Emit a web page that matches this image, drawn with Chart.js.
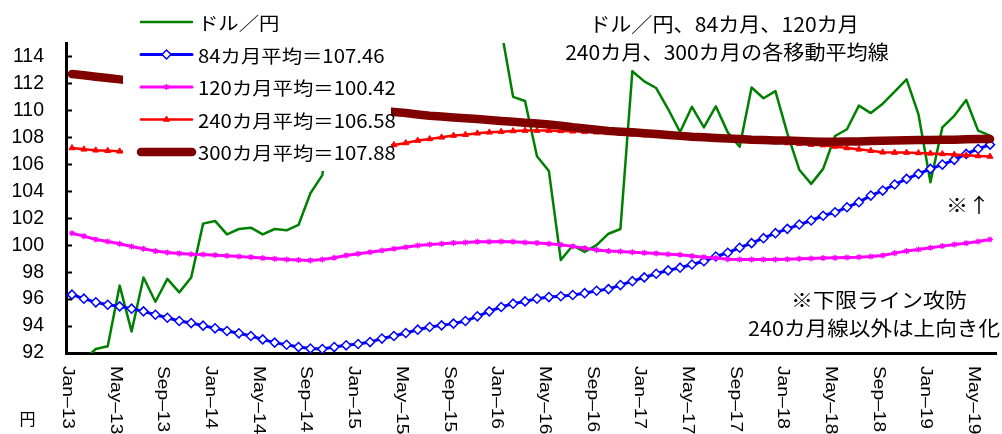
<!DOCTYPE html>
<html lang="ja">
<head>
<meta charset="utf-8">
<title>ドル／円と長期移動平均線</title>
<script src="https://cdn.jsdelivr.net/npm/chart.js@4/dist/chart.umd.min.js"></script>
<style>
  html, body { margin: 0; padding: 0; background: #fff; }
  #wrap { width: 1002px; height: 434px; position: relative; }
</style>
</head>
<body>
<div id="wrap"><canvas id="c" width="1002" height="434"></canvas></div>
<script>
// Monthly categories, Jan 2013 – Jun 2019
const categories = [
  'Jan-13','Feb-13','Mar-13','Apr-13','May-13','Jun-13','Jul-13','Aug-13','Sep-13','Oct-13','Nov-13','Dec-13',
  'Jan-14','Feb-14','Mar-14','Apr-14','May-14','Jun-14','Jul-14','Aug-14','Sep-14','Oct-14','Nov-14','Dec-14',
  'Jan-15','Feb-15','Mar-15','Apr-15','May-15','Jun-15','Jul-15','Aug-15','Sep-15','Oct-15','Nov-15','Dec-15',
  'Jan-16','Feb-16','Mar-16','Apr-16','May-16','Jun-16','Jul-16','Aug-16','Sep-16','Oct-16','Nov-16','Dec-16',
  'Jan-17','Feb-17','Mar-17','Apr-17','May-17','Jun-17','Jul-17','Aug-17','Sep-17','Oct-17','Nov-17','Dec-17',
  'Jan-18','Feb-18','Mar-18','Apr-18','May-18','Jun-18','Jul-18','Aug-18','Sep-18','Oct-18','Nov-18','Dec-18',
  'Jan-19','Feb-19','Mar-19','Apr-19','May-19','Jun-19'
];

// ドル／円 (monthly)
const usdJpy = [
  86.8, 91.5, 92.3, 92.5, 97.0, 93.6, 97.6, 95.8, 97.5, 96.5, 97.6, 101.6,
  101.8, 100.8, 101.2, 101.3, 100.8, 101.2, 101.1, 101.5, 103.85, 105.2, 112.5, 115.5,
  115.85, 116.9, 118.3, 118.5, 118.9, 122.5, 122.2, 116.2, 118.6, 118.1, 120.2, 120.3,
  116.0, 111.0, 110.7, 106.6, 105.5, 98.9, 99.98, 99.5, 100.0, 100.85, 101.2, 112.9,
  112.15, 111.66, 110.1, 108.4, 110.27, 108.74, 110.3, 108.37, 107.3, 111.7, 110.9, 111.43,
  108.3, 105.6, 104.55, 105.66, 108.1, 108.6, 110.35, 109.8, 110.5, 111.4, 112.3, 109.7,
  104.67, 108.74, 109.6, 110.77, 108.5, 108.13
];

// 84カ月移動平均
const ma84 = [
  96.33, 96.03, 95.76, 95.58, 95.46, 95.29, 95.09, 94.84, 94.62, 94.37, 94.22, 94.03,
  93.83, 93.63, 93.46, 93.26, 93.01, 92.77, 92.61, 92.44, 92.33, 92.30, 92.44, 92.57,
  92.67, 92.81, 93.07, 93.26, 93.48, 93.73, 93.93, 94.05, 94.18, 94.37, 94.72, 95.09,
  95.41, 95.66, 95.83, 96.03, 96.15, 96.21, 96.30, 96.44, 96.62, 96.74, 97.04, 97.33,
  97.61, 97.88, 98.13, 98.33, 98.57, 98.81, 99.16, 99.44, 99.81, 100.15, 100.52, 100.89,
  101.21, 101.53, 101.83, 102.18, 102.44, 102.81, 103.19, 103.68, 104.05, 104.50, 104.92, 105.29,
  105.66, 105.98, 106.33, 106.77, 107.14, 107.46
];

// 120カ月移動平均
const ma120 = [
  100.89, 100.67, 100.42, 100.27, 100.10, 99.90, 99.73, 99.56, 99.46, 99.39, 99.33, 99.31,
  99.26, 99.21, 99.16, 99.11, 99.04, 98.99, 98.94, 98.90, 98.87, 98.94, 99.06, 99.24,
  99.36, 99.48, 99.61, 99.73, 99.85, 99.98, 100.05, 100.10, 100.17, 100.20, 100.25, 100.25,
  100.27, 100.25, 100.20, 100.17, 100.10, 100.03, 99.91, 99.78, 99.65, 99.56, 99.53, 99.48,
  99.43, 99.39, 99.33, 99.29, 99.19, 99.11, 99.04, 98.96, 98.94, 98.94, 98.94, 98.94,
  98.96, 98.99, 99.01, 99.04, 99.06, 99.09, 99.11, 99.16, 99.24, 99.41, 99.56, 99.68,
  99.81, 99.93, 100.05, 100.15, 100.27, 100.42
];

// 240カ月移動平均
const ma240 = [
  107.21, 107.11, 107.04, 107.01, 106.96, 106.93, 106.90, 106.88, 106.86, 106.85, 106.84, 106.84,
  106.85, 106.86, 106.88, 106.90, 106.93, 106.96, 107.00, 107.04, 107.08, 107.13, 107.18, 107.23,
  107.29, 107.34, 107.39, 107.44, 107.58, 107.76, 107.88, 108.00, 108.13, 108.20, 108.30, 108.37,
  108.42, 108.47, 108.50, 108.50, 108.50, 108.48, 108.45, 108.42, 108.38, 108.33, 108.28, 108.22,
  108.17, 108.12, 108.07, 108.02, 107.97, 107.93, 107.89, 107.85, 107.80, 107.76, 107.71, 107.65,
  107.58, 107.52, 107.46, 107.42, 107.32, 107.21, 107.11, 107.01, 106.89, 106.87, 106.87, 106.84,
  106.81, 106.77, 106.72, 106.67, 106.62, 106.58
];

// 300カ月移動平均
const ma300 = [
  112.70, 112.60, 112.50, 112.40, 112.30, 112.20, 112.10, 112.00, 111.90, 111.80, 111.70, 111.60,
  111.50, 111.40, 111.30, 111.20, 111.10, 111.00, 110.90, 110.80, 110.70, 110.55, 110.45, 110.35,
  110.20, 110.10, 109.97, 109.88, 109.80, 109.70, 109.60, 109.55, 109.48, 109.42, 109.36, 109.29,
  109.22, 109.15, 109.08, 109.02, 108.95, 108.87, 108.75, 108.65, 108.56, 108.48, 108.42, 108.37,
  108.31, 108.25, 108.18, 108.11, 108.05, 108.01, 107.96, 107.92, 107.88, 107.83, 107.80, 107.77,
  107.76, 107.73, 107.70, 107.68, 107.68, 107.69, 107.70, 107.72, 107.74, 107.76, 107.78, 107.80,
  107.81, 107.82, 107.83, 107.85, 107.87, 107.88
];

// Value axis ticks
const yTicks = [92, 94, 96, 98, 100, 102, 104, 106, 108, 110, 112, 114];

const titleLines = ['ドル／円、84カ月、120カ月', '240カ月、300カ月の各移動平均線'];
const noteLines = ['※下限ライン攻防', '240カ月線以外は上向き化'];
const noteArrow = '※↑';
const unitLabel = '円';

const last = arr => arr[arr.length - 1].toFixed(2);
const CJK = '"Noto Sans CJK JP", "Noto Sans", sans-serif';

function drawScaledText(ctx, text, x, y, font, align, sx) {
  ctx.save();
  ctx.font = font;
  ctx.translate(x, y);
  ctx.scale(sx, 1);
  ctx.textAlign = align;
  ctx.textBaseline = 'middle';
  ctx.fillStyle = '#000';
  ctx.fillText(text, 0, 0);
  ctx.restore();
}

function drawMarker(ctx, ds, cx, cy) {
  if (!ds.pointRadius) return;
  const opts = {
    pointStyle: ds.pointStyle, radius: ds.pointRadius, rotation: 0,
    borderWidth: ds.pointBorderWidth || 1
  };
  ctx.save();
  ctx.fillStyle = ds.pointBackgroundColor;
  ctx.strokeStyle = ds.pointBorderColor;
  ctx.lineWidth = opts.borderWidth;
  Chart.helpers.drawPoint(ctx, opts, cx, cy);
  ctx.restore();
}

const overlay = {
  id: 'overlay',
  afterDatasetsDraw(chart) {
    const { ctx, chartArea, scales } = chart;
    const xs = scales.x, ys = scales.y;
    ctx.save();

    // inward tick marks on the value axis
    ctx.strokeStyle = '#000';
    ctx.lineWidth = 2;
    yTicks.forEach(v => {
      const py = Math.round(ys.getPixelForValue(v)) + 0.5;
      ctx.beginPath();
      ctx.moveTo(chartArea.left, py);
      ctx.lineTo(chartArea.left + 6, py);
      ctx.stroke();
    });

    // legend panel
    ctx.fillStyle = '#fff';
    ctx.fillRect(123, 0, 268, 171);
    chart.data.datasets.forEach((ds, i) => {
      const cy = 22 + i * 32.5;
      ctx.save();
      ctx.strokeStyle = ds.borderColor;
      ctx.lineWidth = ds.borderWidth;
      ctx.lineCap = 'round';
      ctx.beginPath();
      ctx.moveTo(141, cy);
      ctx.lineTo(192, cy);
      ctx.stroke();
      ctx.restore();
      drawMarker(ctx, ds, 166.5, cy);
      drawScaledText(ctx, ds.label, 198, cy + 1, '18.5px ' + CJK, 'left', 1.1);
    });

    // title
    drawScaledText(ctx, titleLines[0], 724, 24, '20.5px ' + CJK, 'center', 1.03);
    drawScaledText(ctx, titleLines[1], 727, 52, '20.5px ' + CJK, 'center', 1.03);

    // notes
    drawScaledText(ctx, noteArrow, 968, 205, '20px ' + CJK, 'center', 1.1);
    drawScaledText(ctx, noteLines[0], 879, 300, '20px ' + CJK, 'center', 1.1);
    drawScaledText(ctx, noteLines[1], 874, 328, '20px ' + CJK, 'center', 1.08);

    // category labels, every 4th month, turned to read downward
    ctx.fillStyle = '#000';
    ctx.font = '16px "Liberation Sans", Arial, sans-serif';
    ctx.textAlign = 'left';
    ctx.textBaseline = 'alphabetic';
    categories.forEach((lab, i) => {
      if (i % 4 !== 0) return;
      const px = xs.getPixelForValue(i);
      ctx.save();
      ctx.translate(px - 9, 366);
      ctx.rotate(Math.PI / 2);
      ctx.scale(1.2, 1);
      ctx.fillText(lab.replace('-', '\u2013'), 0, 0);
      ctx.restore();
    });

    // unit
    drawScaledText(ctx, unitLabel, 27.5, 419, '16px ' + CJK, 'center', 1.0);
    ctx.restore();
  }
};

const chart = new Chart(document.getElementById('c'), {
  type: 'line',
  data: {
    labels: categories,
    datasets: [
      {
        label: 'ドル／円', data: usdJpy, order: 5,
        borderColor: '#008000', borderWidth: 2.5, pointRadius: 0,
        borderCapStyle: 'round', borderJoinStyle: 'round', tension: 0
      },
      {
        label: '84カ月平均＝' + last(ma84), data: ma84, order: 4,
        borderColor: '#0000FF', borderWidth: 3, borderCapStyle: 'round',
        pointStyle: 'rectRot', pointRadius: 4.5, pointBorderWidth: 1.5,
        pointBackgroundColor: '#FFFFFF', pointBorderColor: '#0000FF'
      },
      {
        label: '120カ月平均＝' + last(ma120), data: ma120, order: 3,
        borderColor: '#FF00FF', borderWidth: 3, borderCapStyle: 'round',
        pointStyle: 'star', pointRadius: 3, pointBorderWidth: 1.2,
        pointBackgroundColor: '#FF00FF', pointBorderColor: '#FF00FF'
      },
      {
        label: '240カ月平均＝' + last(ma240), data: ma240, order: 2,
        borderColor: '#FF0000', borderWidth: 2.5, borderCapStyle: 'round',
        pointStyle: 'triangle', pointRadius: 3.5, pointBorderWidth: 1,
        pointBackgroundColor: '#FF0000', pointBorderColor: '#FF0000'
      },
      {
        label: '300カ月平均＝' + last(ma300), data: ma300, order: 1,
        borderColor: '#800000', borderWidth: 8.5, pointRadius: 0,
        borderCapStyle: 'round', borderJoinStyle: 'round'
      }
    ]
  },
  options: {
    responsive: false,
    animation: false,
    devicePixelRatio: 1,
    layout: { padding: { top: 43, right: 2, left: 0, bottom: 0 } },
    plugins: { legend: { display: false }, tooltip: { enabled: false } },
    scales: {
      x: {
        type: 'category',
        offset: true,
        grid: { display: false },
        border: { display: true, color: '#000', width: 3 },
        ticks: { display: false },
        afterFit(scale) { scale.height = 81; }
      },
      y: {
        min: 92, max: 115,
        grid: { display: false, drawTicks: false },
        border: { display: true, color: '#000', width: 3 },
        ticks: {
          color: '#000', padding: 22,
          font: { family: '"Liberation Sans", Arial, sans-serif', size: 19.5 }
        },
        afterBuildTicks(scale) { scale.ticks = yTicks.map(v => ({ value: v })); },
        afterFit(scale) { scale.width = 66; }
      }
    }
  },
  plugins: [overlay]
});
</script>
</body>
</html>
